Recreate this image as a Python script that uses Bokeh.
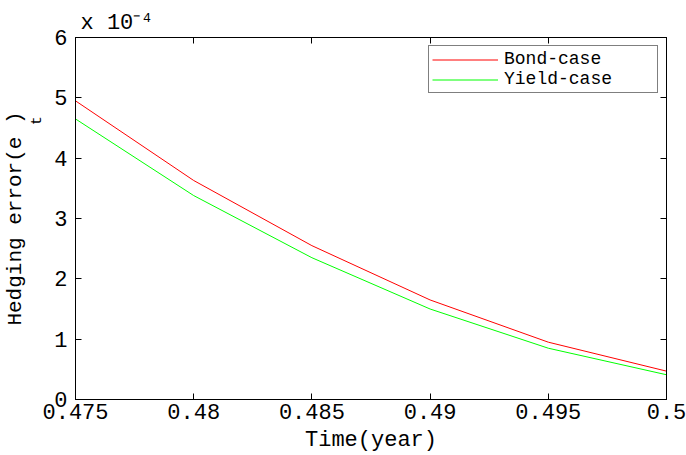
from bokeh.plotting import figure
from bokeh.models import LinearAxis, FixedTicker, Legend, LegendItem, Range1d, Title
from bokeh.embed import file_html
from bokeh.resources import INLINE

# Data (hedging error in units of 1e-4)
time_year = [0.475, 0.48, 0.485, 0.49, 0.495, 0.5]
bond_case = [4.95, 3.63, 2.55, 1.65, 0.95, 0.47]
yield_case = [4.65, 3.38, 2.35, 1.50, 0.85, 0.41]
x_ticks = [0.475, 0.48, 0.485, 0.49, 0.495, 0.5]
x_tick_labels = ["0.475", "0.48", "0.485", "0.49", "0.495", "0.5"]
y_ticks = [0, 1, 2, 3, 4, 5, 6]
y_label_main = "Hedging error(e )"
y_label_sub = "t"
scale_label = "x 10\u207b\u2074"

FONT = "Liberation Mono"
FS = "22px"

p = figure(width=686, height=455, output_backend="svg", toolbar_location=None,
           x_range=Range1d(0.475, 0.5), y_range=Range1d(0, 6),
           min_border_left=75, min_border_right=20, min_border_top=37, min_border_bottom=56)
p.background_fill_color = "white"
p.border_fill_color = "white"
p.outline_line_color = "black"
p.outline_line_width = 1
p.grid.visible = False

r1 = p.line(time_year, bond_case, line_color="#ff0000", line_width=1)
r2 = p.line(time_year, yield_case, line_color="#00ff00", line_width=1)

def style_axis(ax, show_labels=True):
    ax.axis_line_color = "black"
    ax.major_tick_in = 6
    ax.major_tick_out = 0
    ax.minor_tick_line_color = None
    ax.major_tick_line_color = "black"
    ax.major_label_text_font = FONT
    ax.major_label_text_font_size = FS if show_labels else "0px"
    ax.major_label_text_color = "black" if show_labels else None
    if not show_labels:
        ax.major_label_standoff = 0

xa = p.xaxis[0]
xa.ticker = FixedTicker(ticks=x_ticks)
xa.major_label_overrides = {t: l for t, l in zip(x_ticks, x_tick_labels)}
style_axis(xa)
xa.major_label_standoff = 4
xa.axis_label = "Time(year)"
xa.axis_label_text_font = FONT
xa.axis_label_text_font_size = FS
xa.axis_label_text_font_style = "normal"
xa.axis_label_text_color = "black"
xa.axis_label_standoff = 6

ya = p.yaxis[0]
ya.ticker = FixedTicker(ticks=y_ticks)
style_axis(ya)
ya.major_label_standoff = 8

# outer left axis: carries the subscript as its only tick label and the y-axis title
sub_pos = 4.62
ylab_axis = LinearAxis(ticker=FixedTicker(ticks=[sub_pos]),
                       major_label_overrides={sub_pos: y_label_sub})
ylab_axis.axis_line_color = None
ylab_axis.major_tick_line_color = None
ylab_axis.minor_tick_line_color = None
ylab_axis.major_tick_in = 0
ylab_axis.major_tick_out = 0
ylab_axis.major_label_orientation = "vertical"
ylab_axis.major_label_text_font = FONT
ylab_axis.major_label_text_font_size = "15px"
ylab_axis.major_label_text_color = "black"
ylab_axis.major_label_standoff = 5
ylab_axis.axis_label = y_label_main
ylab_axis.axis_label_text_font = FONT
ylab_axis.axis_label_text_font_size = "21px"
ylab_axis.axis_label_text_font_style = "normal"
ylab_axis.axis_label_text_color = "black"
ylab_axis.axis_label_standoff = 0
p.add_layout(ylab_axis, "left")

top = LinearAxis(ticker=FixedTicker(ticks=x_ticks))
style_axis(top, False)
p.add_layout(top, "above")
right = LinearAxis(ticker=FixedTicker(ticks=y_ticks))
style_axis(right, False)
p.add_layout(right, "right")

scale_title = Title(text=scale_label, align="left", offset=5, standoff=4,
                    text_font=FONT, text_font_size=FS, text_font_style="normal",
                    text_color="black")
p.add_layout(scale_title, "above")

legend = Legend(items=[LegendItem(label="Bond-case", renderers=[r1]),
                       LegendItem(label="Yield-case", renderers=[r2])],
                location="top_right")
legend.label_text_font = FONT
legend.label_text_font_size = "18px"
legend.label_text_color = "black"
legend.label_text_line_height = 1.0
legend.label_height = 19
legend.glyph_height = 19
legend.glyph_width = 66
legend.label_width = 150
legend.label_standoff = 6
legend.padding = 3
legend.spacing = 0
legend.margin = 8
legend.border_line_color = "black"
legend.border_line_width = 1
legend.background_fill_color = "white"
legend.background_fill_alpha = 1
p.add_layout(legend)

open("out.html", "w").write(file_html(p, INLINE))
